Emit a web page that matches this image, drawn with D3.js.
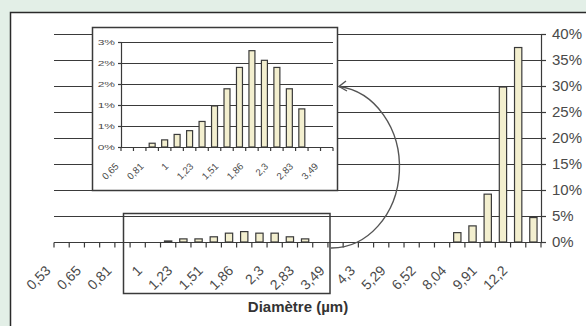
<!DOCTYPE html>
<html><head><meta charset="utf-8">
<script src="https://cdn.jsdelivr.net/npm/d3@7"></script>
<style>
html,body{margin:0;padding:0;background:#e3efe7;}
svg{display:block;font-family:"Liberation Sans",Arial,sans-serif;}
</style></head>
<body>
<svg id="c" width="586" height="326"></svg>
<script>
// ---- data ----
const categories = ["0,53","0,59","0,65","0,72","0,81","0,9","1","1,11","1,23","1,37","1,51","1,68","1,86","2,07","2,3","2,55","2,83","3,14","3,49","3,87","4,3","4,77","5,29","5,87","6,52","7,24","8,04","8,93","9,91","11","12,2","13,6"];
const mainValues = [0,0,0,0,0,0,0,0.002,0.006,0.006,0.010,0.017,0.020,0.017,0.017,0.010,0.006,0,0,0,0,0,0,0,0,0,0.018,0.031,0.092,0.298,0.374,0.047];
const mainTicks = [0,0.05,0.10,0.15,0.20,0.25,0.30,0.35,0.40];
const insetCategories = ["0,65","0,72","0,81","0,9","1","1,11","1,23","1,37","1,51","1,68","1,86","2,07","2,3","2,55","2,83","3,14","3,49"];
const insetValues = [0,0,0.0009,0.0017,0.0030,0.0039,0.0061,0.0098,0.0139,0.0190,0.0230,0.0207,0.0190,0.0139,0.0091,0,0];
const insetTicks = [0,0.005,0.010,0.015,0.020,0.025];
const axisTitle = "Diamètre (µm)";

const svg = d3.select("#c");
const dark = "#3a3a3a", txt = "#4a4a4a", barFill = "#f3efcf";

// white panel
svg.append("rect").attr("x",10.5).attr("y",12.5).attr("width",600).attr("height",340)
  .attr("fill","#fff").attr("stroke","#2a2a2a").attr("stroke-width",1.5);

// ---- main chart ----
const x = d3.scaleBand().domain(categories).range([54,541]);
const y = d3.scaleLinear().domain([0,0.40]).range([242,34]);

const g = svg.append("g");
g.selectAll("line.grid").data(mainTicks.slice(1)).join("line")
  .attr("x1",54).attr("x2",541).attr("y1",d=>Math.round(y(d))+0.5).attr("y2",d=>Math.round(y(d))+0.5)
  .attr("stroke",dark).attr("stroke-width",1.2);

const bw = x.bandwidth()*0.48;
g.selectAll("rect.bar").data(categories.map((c,i)=>({c,v:mainValues[i]})).filter(d=>d.v>0)).join("rect")
  .attr("x",d=>x(d.c)+x.bandwidth()/2-bw/2).attr("width",bw)
  .attr("y",d=>y(d.v)).attr("height",d=>y(0)-y(d.v))
  .attr("fill",barFill).attr("stroke",dark).attr("stroke-width",1.2);

// x axis
const xAxis = g.append("g").attr("transform","translate(0,242.5)");
xAxis.append("line").attr("x1",54).attr("x2",541).attr("stroke",dark).attr("stroke-width",1.2);
const bounds = d3.range(categories.length+1).map(i=> i<categories.length ? x(categories[i]) : x.range()[1]);
xAxis.selectAll("line.t").data(bounds).join("line")
  .attr("x1",d=>d).attr("x2",d=>d).attr("y1",0).attr("y2",5).attr("stroke",dark).attr("stroke-width",1.2);
xAxis.selectAll("text").data(categories.filter((c,i)=>i%2===0)).join("text")
  .attr("transform",d=>`translate(${x(d)+x.bandwidth()/2-10},${29}) rotate(-45)`)
  .attr("text-anchor","end").attr("font-size",14).attr("fill",txt).text(d=>d);

// right axis
const yAxis = g.append("g").attr("transform","translate(541,0)")
  .call(d3.axisRight(y).tickValues(mainTicks).tickSize(5).tickPadding(6).tickFormat(d3.format(".0%")));
yAxis.select(".domain").attr("stroke",dark).attr("stroke-width",1.2).attr("d","M0.5,34V242");
yAxis.selectAll(".tick line").attr("stroke",dark).attr("stroke-width",1.2);
yAxis.selectAll(".tick text").attr("font-size",15).attr("fill",txt).attr("font-family","Liberation Sans, Arial, sans-serif");

svg.append("text").attr("x",298).attr("y",312).attr("text-anchor","middle")
  .attr("font-size",15).attr("font-weight","bold").attr("fill","#333").text(axisTitle);

// highlight box on main chart
svg.append("rect").attr("x",123.5).attr("y",213.5).attr("width",206.5).attr("height",80)
  .attr("fill","none").attr("stroke",dark).attr("stroke-width",1.5);

// ---- inset ----
svg.append("rect").attr("x",92.5).attr("y",27.5).attr("width",245).attr("height",163)
  .attr("fill","#fff").attr("stroke",dark).attr("stroke-width",1.5);
const xi = d3.scaleBand().domain(insetCategories).range([121,333]);
const yi = d3.scaleLinear().domain([0,0.025]).range([147,42.3]);
const gi = svg.append("g");
gi.selectAll("line.grid").data(insetTicks.slice(1)).join("line")
  .attr("x1",121).attr("x2",333).attr("y1",d=>Math.round(yi(d))+0.5).attr("y2",d=>Math.round(yi(d))+0.5)
  .attr("stroke",dark).attr("stroke-width",1.2);
const bwi = xi.bandwidth()*0.48;
gi.selectAll("rect.bar").data(insetCategories.map((c,i)=>({c,v:insetValues[i]})).filter(d=>d.v>0)).join("rect")
  .attr("x",d=>xi(d.c)+xi.bandwidth()/2-bwi/2).attr("width",bwi)
  .attr("y",d=>yi(d.v)).attr("height",d=>yi(0)-yi(d.v))
  .attr("fill",barFill).attr("stroke",dark).attr("stroke-width",1.2);
// inset y axis
gi.append("line").attr("x1",121.5).attr("x2",121.5).attr("y1",yi(0.025)).attr("y2",yi(0)).attr("stroke",dark).attr("stroke-width",1.2);
gi.selectAll("line.yt").data(insetTicks).join("line")
  .attr("x1",118).attr("x2",121.5).attr("y1",d=>Math.round(yi(d))+0.5).attr("y2",d=>Math.round(yi(d))+0.5).attr("stroke",dark).attr("stroke-width",1.2);
gi.selectAll("text.yl").data(insetTicks).join("text")
  .attr("transform",d=>`translate(115,${yi(d)+3}) scale(1.5,1)`)
  .attr("text-anchor","end").attr("font-size",8).attr("fill",txt).text(d=>d3.format(".0%")(d));
// inset x axis
gi.append("line").attr("x1",121).attr("x2",333).attr("y1",147.5).attr("y2",147.5).attr("stroke",dark).attr("stroke-width",1.2);
const bi = d3.range(insetCategories.length+1).map(i=> i<insetCategories.length ? xi(insetCategories[i]) : xi.range()[1]);
gi.selectAll("line.xt").data(bi).join("line")
  .attr("x1",d=>d).attr("x2",d=>d).attr("y1",147.5).attr("y2",151).attr("stroke",dark).attr("stroke-width",1.2);
gi.selectAll("text.xl").data(insetCategories.filter((c,i)=>i%2===0)).join("text")
  .attr("transform",d=>`translate(${xi(d)+xi.bandwidth()/2-8},${167}) rotate(-45) scale(1.2,1.2)`)
  .attr("text-anchor","end").attr("font-size",8).attr("fill",txt).text(d=>d);

// curved arrow
svg.append("path").attr("d","M331,248 A68,81 0 0,0 339,86.5")
  .attr("fill","none").attr("stroke","#555").attr("stroke-width",1.4);
svg.append("path").attr("d","M346,81 L339,86.5 L347,91")
  .attr("fill","none").attr("stroke","#555").attr("stroke-width",1.4);
</script>
</body></html>
